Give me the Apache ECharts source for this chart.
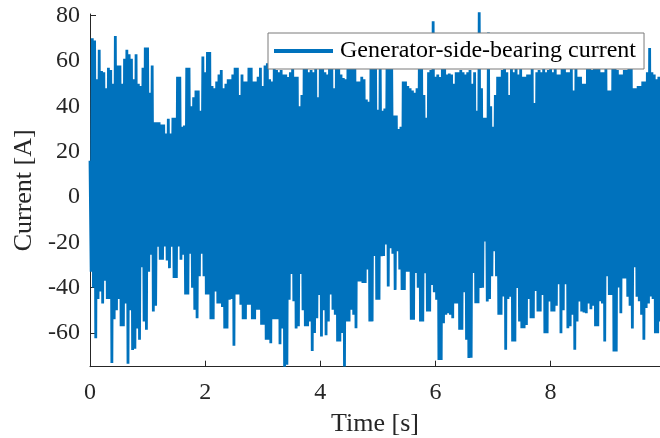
<!DOCTYPE html>
<html>
<head>
<meta charset="utf-8">
<script src="https://cdn.jsdelivr.net/npm/echarts@6/dist/echarts.min.js"></script>
<style>
html,body{margin:0;padding:0;background:#fff;}
#chart{width:660px;height:438px;}
</style>
</head>
<body>
<div id="chart"></div>
<script>
// Sampling: peaks at t = 0.04*i, troughs at t = 0.04*j + 0.02 (seconds)
const peakStep = 0.04;
const troughOffset = 0.02;

// Upper envelope (local maxima), A
const upper = [
16,70,69,52,65,55.6,55,48,57,56,
50,71,58,58,50,61,65,63,61,52,
63,50,49,57,66,66,46,58,33,33,
33,32,32,28,34.5,28,35,35,53,53,
31,31.5,57,57,40,44,47,47,38,62,
55,64,64,49,48,51,54,56,48,50,
52,52,54,57,57,45,54,51,51,57,
57,51,51,53,57,49,58,59,52,51,
59,56,55,56,54,54,53,55,62,53,
53,40,45,63,60,55,56,55,58,44,
61,62,55,54,60,58,48,63,59,54,
52.5,52,60,58,57,59,51,51,53,52,
43,42,61,60,57,38.5,59,38,39,62,
60,58,36,36,30,31,51,51,49,48,
47,46,48,60,58,45,35,55,56,77.5,
53,54,53,60,57,54,54.5,54,50,55,
55,56,55,54,55,56,50,55,38,81.5,
48,35,35,72.6,40,31,45,53,53,56,
60,55,45,58,55,60,54,57,53,53,
54,54,59,41.5,55,56,55,60,55,56,
58,55,61,54,54,60,62,55,55,58,
47,60,53,53,50,50,59,57,56,60,
62,58,55,55,58,47,47,57,57,56,
54,54,56,56,61,62,48,48,49,49,
51,51,55,65.7,55,54,52,53
];

// Lower envelope (local minima), A
const lower = [
-33,-40,-62.3,-45,-41.7,-47,-37,-45,-45,-73.3,
-54,-50,-45,-57,-57,-47,-73.6,-50,-67.5,-67,
-58,-63,-31,-55,-58.6,-33,-25.5,-50.5,-48,-22,
-27.7,-27.7,-21.8,-28,-31.4,-22,-35.8,-35.8,-21.8,-27.7,
-25.5,-43,-43,-25,-40,-49.8,-53.5,-35,-25,-35,
-43,-43,-54,-54,-41.7,-47,-47,-48.5,-58,-58,
-45.4,-45,-65.7,-43,-43,-47.6,-54,-54,-47.6,-47.6,
-54,-54,-49.8,-49.8,-56.4,-56.4,-63,-63,-64.5,-54,
-54,-54,-65,-58,-74.9,-74,-45.4,-34,-46,-58,
-57,-34,-50,-57,-57,-55,-68,-60,-53.5,-43.2,
-61.6,-50,-61,-55,-43,-49.8,-52,-63.8,-63.8,-60,
-74.8,-55,-55,-49.8,-52,-57.9,-37.3,-37.3,-38,-38,
-32,-54.9,-54.9,-26,-45.4,-45.4,-26.2,-26,-21,-39.5,
-22.6,-25,-41,-24,-32,-41,-41,-33,-33,-54.2,
-54.2,-33.6,-40,-55,-55,-33.6,-50.5,-50.5,-38.8,-42,
-45.4,-71.9,-71.9,-55.7,-52,-51.3,-52,-53.5,-47,-47,
-58.6,-58.6,-42,-63,-71.1,-71,-33.6,-46.9,-46.9,-40.2,
-40,-19.6,-46.1,-45,-35,-24,-35,-52,-52,-43.9,
-67.4,-45,-44,-63.8,-63.8,-40.2,-55,-57.9,-57.9,-56.5,
-45,-53.5,-53.5,-41.5,-50.5,-50.5,-43.2,-60.1,-60.1,-46.1,
-50.5,-50.5,-48,-38.5,-60.1,-50,-38.5,-57.9,-57,-52,
-67.4,-55,-46.1,-50.5,-51,-51.3,-47,-49.5,-48,-57,
-57,-46,-47,-63.8,-35,-43.2,-43.2,-68.2,-68.2,-40,
-51.3,-36,-36,-44,-48,-58,-31,-44,-46,-52,
-63,-49,-47,-43.9,-45,-60.1,-60.1,-55
];

const yTicks = [-60, -40, -20, 0, 20, 40, 60, 80];
const xTicks = [0, 2, 4, 6, 8];
const seriesName = 'Generator-side-bearing current';

// Interleave peaks and troughs into one time series
const signal = [];
const n = Math.max(upper.length, lower.length);
for (let k = 0; k < n; k++) {
  if (k < upper.length) signal.push([+(k * peakStep).toFixed(2), upper[k]]);
  if (k < lower.length) signal.push([+(k * peakStep + troughOffset).toFixed(2), lower[k]]);
}

const FONT = '"Liberation Serif"';
const AX = '#262626';
const tickRich = {t: {fontFamily: FONT, fontSize: 24, color: AX}};
const chart = echarts.init(document.getElementById('chart'), null, {renderer: 'canvas'});
chart.setOption({
  animation: false,
  backgroundColor: '#ffffff',
  textStyle: {fontFamily: FONT},
  grid: {left: 90, right: 0, top: 14, bottom: 71.3, containLabel: false, outerBoundsMode: 'none'},
  legend: {
    data: [seriesName],
    left: 268, top: 33,
    icon: 'rect', itemWidth: 59, itemHeight: 4,
    padding: [6, 8, 6, 6],
    backgroundColor: '#ffffff',
    borderColor: '#7a7a7a', borderWidth: 1, borderRadius: 0,
    textStyle: {fontFamily: FONT, fontSize: 24, color: '#000', padding: [0, 0, 0, 2]}
  },
  xAxis: {
    type: 'value', min: 0, max: 9.9,
    name: 'Time [s]', nameLocation: 'middle', nameGap: 44,
    nameTextStyle: {fontFamily: FONT, fontSize: 26, color: AX},
    axisLine: {show: true, onZero: false, lineStyle: {color: AX, width: 1}},
    axisTick: {show: true, inside: true, length: 6, customValues: xTicks, lineStyle: {color: AX}},
    axisLabel: {customValues: xTicks, fontFamily: FONT, fontSize: 24, color: AX, margin: 14,
      formatter: v => '{t|' + v + '}', rich: tickRich},
    splitLine: {show: false}
  },
  yAxis: {
    type: 'value', min: -74.9, max: 80.75,
    name: 'Current [A]', nameLocation: 'middle', nameGap: 45, nameRotate: 90,
    nameTextStyle: {fontFamily: FONT, fontSize: 26, color: AX},
    axisLine: {show: true, onZero: false, lineStyle: {color: AX, width: 1}},
    axisTick: {show: true, inside: true, length: 6, customValues: yTicks, lineStyle: {color: AX}},
    axisLabel: {customValues: yTicks, fontFamily: FONT, fontSize: 24, color: AX, margin: 10,
      formatter: v => '{t|' + v + '}', rich: tickRich},
    splitLine: {show: false}
  },
  series: [{
    name: seriesName,
    type: 'line',
    data: signal,
    showSymbol: false,
    symbol: 'none',
    clip: false,
    lineStyle: {color: '#0072BD', width: 2.8, join: 'bevel'},
    itemStyle: {color: '#0072BD'},
    z: 2
  }]
});
</script>
</body>
</html>
